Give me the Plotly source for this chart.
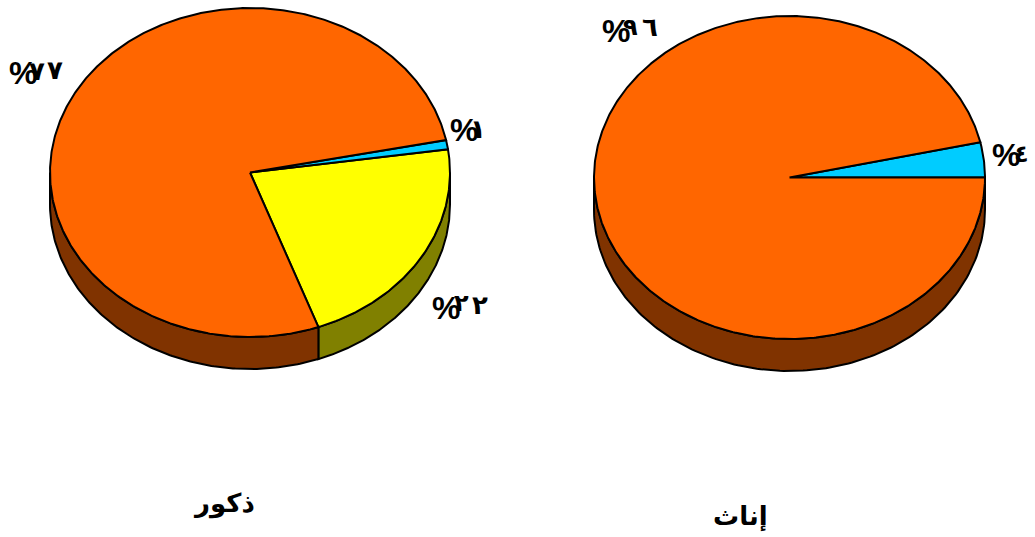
import numpy as np
import plotly.graph_objects as go

# data
male_title = "ذكور"
female_title = "إناث"
male_values = [21.7, 0.9, 77.4]       # yellow, blue, orange (counter-clockwise)
female_values = [3.5, 96.5]           # blue, orange
male_digits = ["٢٢", "١", "٧٧"]
female_digits = ["٤", "٩٦"]

# style
ORANGE, BLUE, YELLOW = "#FF6600", "#00CCFF", "#FFFF00"
D_ORANGE, D_YELLOW = "#803300", "#808000"
W, H = 1035, 537
FONT = "Liberation Sans, Noto Sans, DejaVu Sans"

fig = go.Figure()


def poly(xs, ys, color):
    fig.add_trace(go.Scatter(x=xs, y=ys, mode="lines", fill="toself", fillcolor=color,
                             line=dict(color="black", width=2), hoverinfo="skip",
                             showlegend=False))


def pie3d(values, colors, dark, start, cx, cy, rx, ry, depth):
    frac = np.cumsum([0] + list(values)) / sum(values)
    angles = start + frac * 360
    # side wall: visible lower half of the rim
    for a0, a1, col in zip(angles[:-1], angles[1:], dark):
        for off in (0, 360, -360):
            lo = max(a0 + off, 180)
            hi = min(a1 + off, 360)
            if hi > lo:
                t = np.radians(np.linspace(lo, hi, 160))
                xs = cx + rx * np.cos(t)
                ys = cy - ry * np.sin(t)
                poly(np.r_[xs, xs[::-1], xs[0]], np.r_[ys, ys[::-1] + depth, ys[0]], col)
    # top face
    for a0, a1, col in zip(angles[:-1], angles[1:], colors):
        t = np.radians(np.linspace(a0, a1, max(int(a1 - a0) * 2, 8)))
        poly(np.r_[cx, cx + rx * np.cos(t), cx], np.r_[cy, cy - ry * np.sin(t), cy], col)


pie3d(male_values, [YELLOW, BLUE, ORANGE], [D_YELLOW, D_YELLOW, D_ORANGE], -70,
      250, 172.5, 200, 164.5, 32)
pie3d(female_values, [BLUE, ORANGE], [D_ORANGE, D_ORANGE], 0,
      789.5, 177.5, 195.5, 161.5, 32)

# (text, x, y, size)
texts = [
    ("%", 23, 73, 32), (male_digits[2][0], 37, 71, 26), (male_digits[2][1], 55, 70, 26),
    ("%", 464, 130, 32), (male_digits[1], 478, 129, 26),
    ("%", 446, 308, 32), (male_digits[0][0], 461, 302, 24), (male_digits[0][1], 480, 305, 26),
    ("%", 616, 31, 32), (female_digits[1][0], 630, 26, 24), (female_digits[1][1], 650, 27, 26),
    ("%", 1006, 155, 32), (female_digits[0], 1021, 153, 24),
    (male_title, 224, 503, 26), (female_title, 740, 516, 26),
]
for s, x, y, size in texts:
    fig.add_annotation(x=x, y=y, text=f"<b>{s}</b>", showarrow=False, xanchor="center",
                       yanchor="middle", font=dict(family=FONT, size=size, color="black"))

fig.update_layout(width=W, height=H, margin=dict(l=0, r=0, t=0, b=0),
                  paper_bgcolor="white", plot_bgcolor="white", showlegend=False,
                  xaxis=dict(range=[0, W], visible=False, fixedrange=True),
                  yaxis=dict(range=[H, 0], visible=False, fixedrange=True))
fig.write_html("out.html", config=dict(displayModeBar=False),
               post_script="document.body.style.margin='0';document.body.style.overflow='hidden';")
